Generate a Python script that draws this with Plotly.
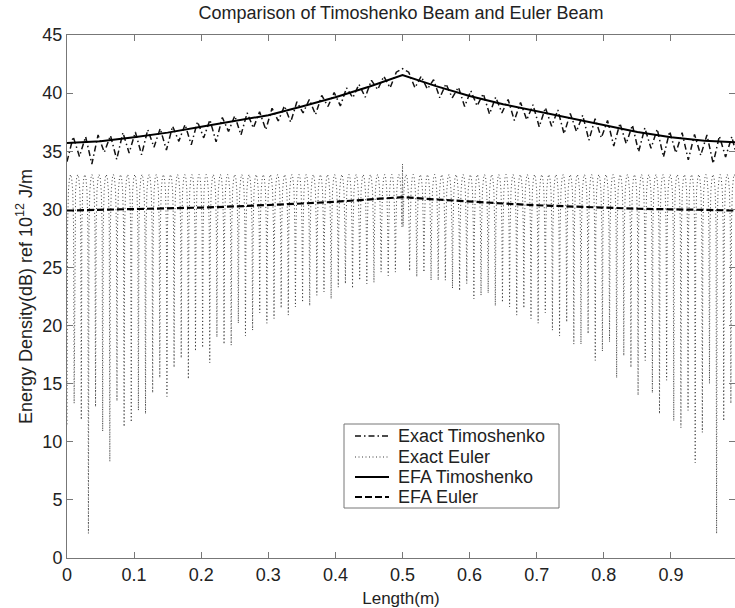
import plotly.graph_objects as go

# ---- EFA (smooth) solutions, sampled every 0.05 m ----
efa_x = [0.0, 0.05, 0.1, 0.15, 0.2, 0.25, 0.3, 0.35, 0.4, 0.45, 0.5,
         0.55, 0.6, 0.65, 0.7, 0.75, 0.8, 0.85, 0.9, 0.95, 1.0]
efa_timoshenko = [35.7, 35.85, 36.2, 36.6, 37.1, 37.6, 38.1, 38.85, 39.65, 40.55, 41.55,
                  40.6, 39.75, 39.05, 38.45, 37.8, 37.2, 36.65, 36.2, 35.9, 35.75]
efa_euler = [29.9, 29.95, 30.0, 30.1, 30.15, 30.25, 30.35, 30.5, 30.65, 30.85, 31.05,
             30.85, 30.65, 30.5, 30.35, 30.25, 30.1, 30.05, 30.0, 29.95, 29.9]

# ---- Exact Euler solution: minima of each standing-wave cycle (94 cycles) ----
euler_minima = [
    11.5, 13.3, 11.9, 2.1, 13.0, 10.9, 8.3, 13.5, 11.3, 11.7,
    12.7, 12.4, 14.2, 15.5, 13.9, 16.4, 17.2, 15.4, 17.8, 18.1,
    16.8, 19.0, 18.4, 18.3, 20.2, 19.1, 19.6, 21.1, 20.2, 20.6,
    21.5, 20.9, 21.6, 22.0, 21.7, 22.6, 22.9, 22.3, 23.3, 23.6,
    23.2, 23.9, 23.6, 23.7, 24.6, 24.3, 24.6, 33.9, 24.7, 24.2,
    24.6, 23.9, 23.9, 23.9, 23.2, 23.0, 23.6, 22.3, 22.6, 22.8,
    21.7, 22.0, 21.6, 20.9, 21.5, 20.6, 20.2, 21.1, 19.6, 19.1,
    20.3, 18.4, 18.4, 19.3, 17.0, 17.8, 18.6, 15.5, 17.4, 16.4,
    14.0, 17.0, 14.2, 12.4, 15.3, 11.8, 11.2, 12.7, 8.2, 10.8,
    15.0, 2.1, 11.8, 13.3, 11.5,
]
euler_minima_x = [i / 94 for i in range(len(euler_minima))]
# profile of the arch between two neighbouring minima (fraction of cycle, dB)
euler_arch_frac = [0.08, 0.2, 0.35, 0.5, 0.65, 0.8, 0.92]
euler_arch_val = [28.5, 31.6, 32.7, 33.0, 32.7, 31.6, 28.5]

# ---- Exact Timoshenko solution: minima and maxima of each cycle (54 cycles) ----
timo_minima = [
    34.1, 34.55, 33.9, 34.9, 34.3, 34.85, 34.7, 35.35, 35.1, 35.85,
    35.55, 36.15, 35.8, 36.7, 36.4, 37.0, 36.85, 37.6, 37.5, 38.3,
    38.15, 38.85, 38.9, 39.6, 39.65, 40.3, 40.45, 42.1, 40.45, 40.35,
    39.6, 39.6, 38.85, 38.9, 38.2, 38.3, 37.65, 37.7, 37.1, 37.15,
    36.5, 36.7, 35.95, 36.15, 35.45, 35.65, 34.95, 35.25, 34.5, 34.85,
    34.25, 34.65, 33.95, 34.5, 34.15,
]
timo_maxima = [
    36.25, 36.25, 36.4, 36.35, 36.6, 36.65, 36.85, 36.95, 37.15, 37.3,
    37.55, 37.7, 37.9, 38.05, 38.3, 38.4, 38.7, 38.9, 39.25, 39.45,
    39.8, 40.05, 40.45, 40.75, 41.1, 41.45, 41.8, 41.8, 41.45, 41.15,
    40.8, 40.5, 40.2, 39.95, 39.65, 39.45, 39.2, 39.0, 38.75, 38.55,
    38.25, 38.1, 37.8, 37.65, 37.4, 37.25, 37.0, 36.9, 36.7, 36.6,
    36.45, 36.4, 36.3, 36.25,
]
timo_minima_x = [i / 54 for i in range(len(timo_minima))]
timo_maxima_x = [(i + 0.5) / 54 for i in range(len(timo_maxima))]

x_ticks = [0, 0.1, 0.2, 0.3, 0.4, 0.5, 0.6, 0.7, 0.8, 0.9]
x_tick_text = ["0", "0.1", "0.2", "0.3", "0.4", "0.5", "0.6", "0.7", "0.8", "0.9"]
y_ticks = [0, 5, 10, 15, 20, 25, 30, 35, 40, 45]

series_names = ["Exact Timoshenko", "Exact Euler", "EFA Timoshenko", "EFA Euler"]
series_styles = [
    dict(color="#111111", width=1.5, dash="6px,3px,1.5px,3px"),
    dict(color="#3a3a3a", width=1, dash="1px,2.5px"),
    dict(color="#000000", width=2),
    dict(color="#000000", width=2.2, dash="7px,3px"),
]

# assemble the Euler exact polyline: minimum, arch, next minimum ...
ex_euler_x, ex_euler_y = [], []
w = euler_minima_x[1] - euler_minima_x[0]
for i in range(len(euler_minima) - 1):
    ex_euler_x.append(euler_minima_x[i])
    ex_euler_y.append(euler_minima[i])
    for f, v in zip(euler_arch_frac, euler_arch_val):
        ex_euler_x.append(euler_minima_x[i] + f * w)
        ex_euler_y.append(v)
ex_euler_x.append(euler_minima_x[-1])
ex_euler_y.append(euler_minima[-1])

# assemble the Timoshenko exact polyline: alternate minima and maxima
ex_timo_x, ex_timo_y = [], []
for i in range(len(timo_minima)):
    ex_timo_x.append(timo_minima_x[i])
    ex_timo_y.append(timo_minima[i])
    if i < len(timo_maxima):
        ex_timo_x.append(timo_maxima_x[i])
        ex_timo_y.append(timo_maxima[i])

FONT = "Liberation Sans, Arial, Helvetica, sans-serif"
TXT = "#222222"
AX = "#777777"

fig = go.Figure()
data_xy = [(ex_timo_x, ex_timo_y), (ex_euler_x, ex_euler_y),
           (efa_x, efa_timoshenko), (efa_x, efa_euler)]
for (xs, ys), name, style in zip(data_xy, series_names, series_styles):
    fig.add_trace(go.Scatter(x=xs, y=ys, mode="lines", name=name,
                             line=style, showlegend=False))

# boxed legend in the lower middle of the axes (paper coordinates)
W_PLOT, H_PLOT = 668, 523
def px_x(p):
    return (p - 67) / W_PLOT
def px_y(p):
    return (558 - p) / H_PLOT

shapes = [dict(type="rect", xref="paper", yref="paper",
               x0=px_x(344), x1=px_x(559), y0=px_y(508), y1=px_y(424),
               line=dict(color=AX, width=1), fillcolor="white", layer="above")]
annotations = []
row_y = [436, 457, 477, 497]
for name, style, ry in zip(series_names, series_styles, row_y):
    shapes.append(dict(type="line", xref="paper", yref="paper",
                       x0=px_x(355), x1=px_x(389), y0=px_y(ry), y1=px_y(ry),
                       line=style, layer="above"))
    annotations.append(dict(text=name, xref="paper", yref="paper",
                            x=px_x(396), y=px_y(ry), xanchor="left", yanchor="middle",
                            showarrow=False,
                            font=dict(family=FONT, size=18, color=TXT)))

axis_common = dict(
    showline=True, linecolor=AX, linewidth=1, mirror="ticks",
    ticks="inside", ticklen=6, tickwidth=1, tickcolor=AX,
    showgrid=False, zeroline=False,
    tickfont=dict(family=FONT, size=18, color=TXT),
)

fig.update_layout(
    width=735, height=608,
    margin=dict(l=67, r=0, t=35, b=50),
    paper_bgcolor="white", plot_bgcolor="white",
    font=dict(family=FONT, color=TXT),
    title=dict(text="Comparison of Timoshenko Beam and Euler Beam",
               x=0.5, xref="paper", xanchor="center",
               y=1 - 13 / 608, yref="container", yanchor="middle",
               font=dict(family=FONT, size=18, color=TXT)),
    xaxis=dict(range=[0, 0.9955], tickvals=x_ticks, ticktext=x_tick_text,
               title=dict(text="Length(m)", standoff=8,
                          font=dict(family=FONT, size=17, color=TXT)),
               **axis_common),
    yaxis=dict(range=[0, 45], tickvals=y_ticks,
               title=dict(text="Energy Density(dB) ref 10<sup>12</sup> J/m", standoff=5,
                          font=dict(family=FONT, size=18, color=TXT)),
               **axis_common),
    showlegend=False,
    shapes=shapes,
    annotations=annotations,
)

fig.write_html("out.html")
